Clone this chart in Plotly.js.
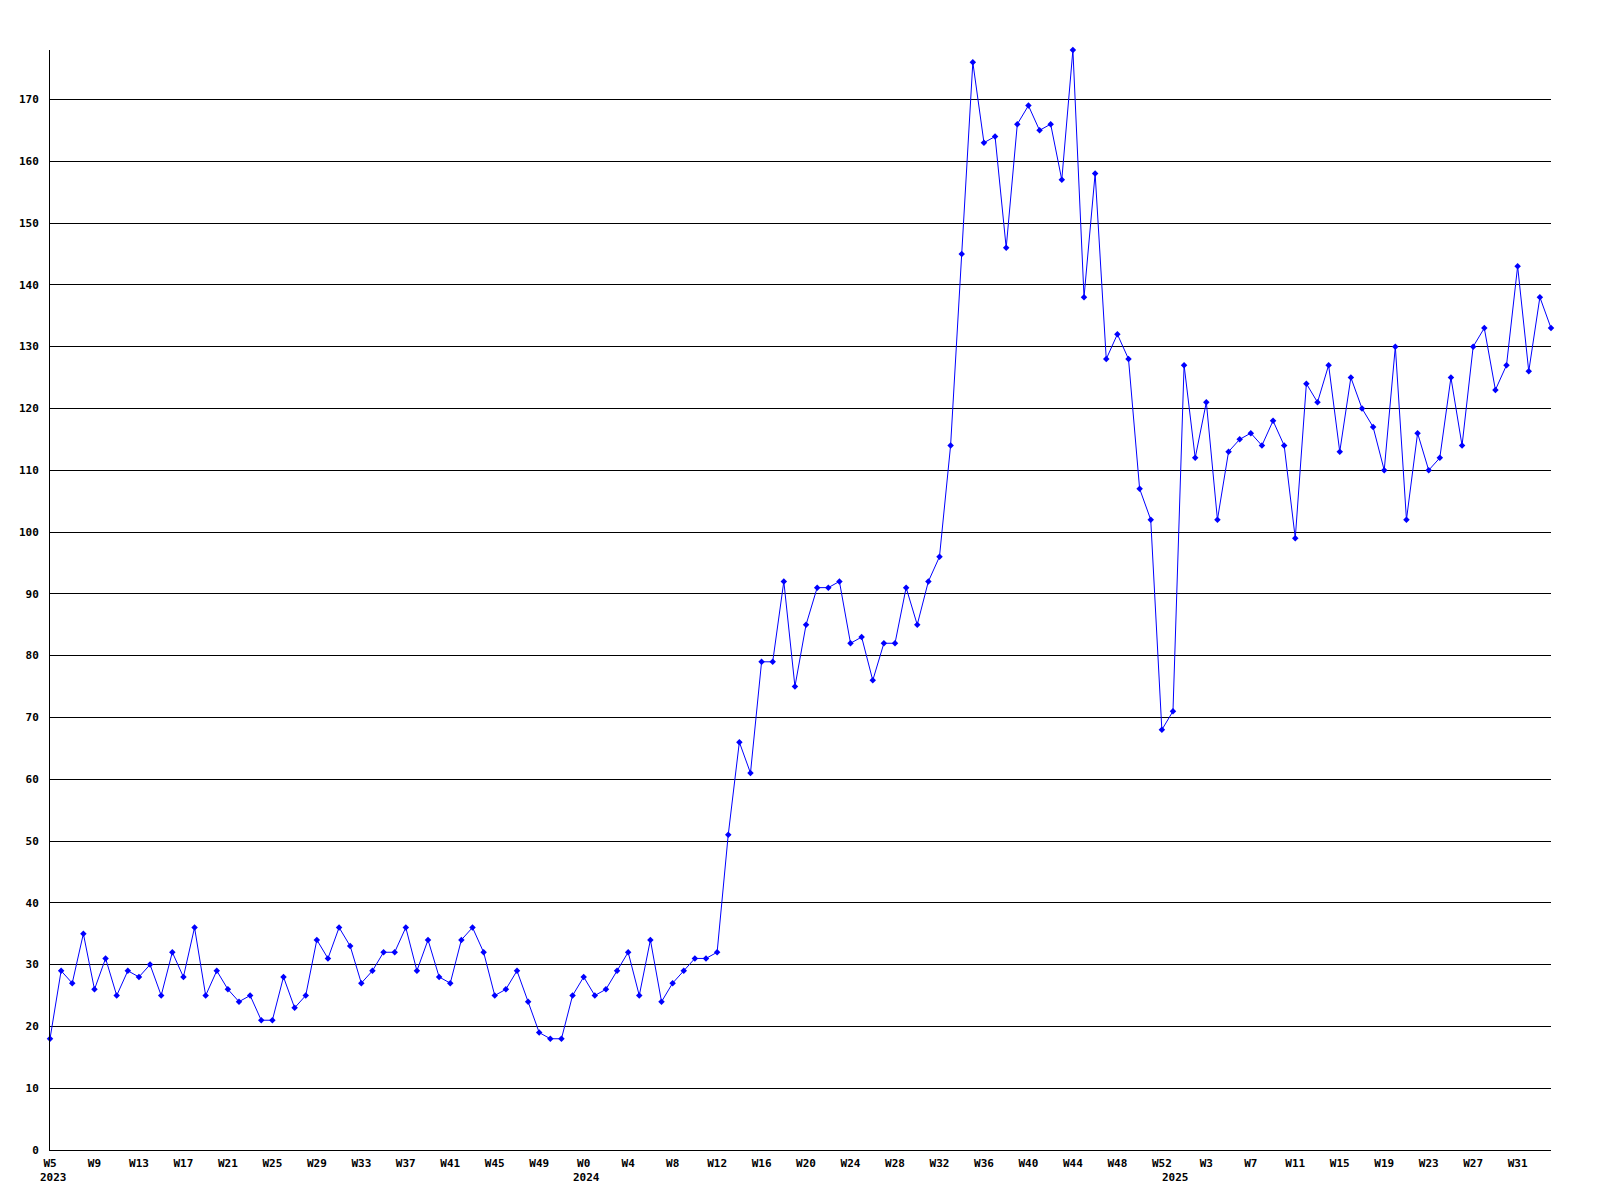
<!DOCTYPE html>
<html>
<head>
<meta charset="utf-8">
<script src="https://cdn.plot.ly/plotly-3.0.1.min.js"></script>
<style>
html, body { margin: 0; padding: 0; background: #ffffff; }
#chart { width: 1600px; height: 1200px; }
</style>
</head>
<body>
<div id="chart"></div>
<script>
// ---- Data ----
const weeks2023 = [5, 6, 7, 8, 9, 10, 11, 12, 13, 14, 15, 16, 17, 18, 19, 20, 21, 22, 23, 24, 25, 26, 27, 28, 29, 30, 31, 32, 33, 34, 35, 36, 37, 38, 39, 40, 41, 42, 43, 44, 45, 46, 47, 48, 49, 50, 51, 52];
const weeks2024 = [0, 1, 2, 3, 4, 5, 6, 7, 8, 9, 10, 11, 12, 13, 14, 15, 16, 17, 18, 19, 20, 21, 22, 23, 24, 25, 26, 27, 28, 29, 30, 31, 32, 33, 34, 35, 36, 37, 38, 39, 40, 41, 42, 43, 44, 45, 46, 47, 48, 49, 50, 51, 52];
const weeks2025 = [0, 1, 2, 3, 4, 5, 6, 7, 8, 9, 10, 11, 12, 13, 14, 15, 16, 17, 18, 19, 20, 21, 22, 23, 24, 25, 26, 27, 28, 29, 30, 31, 32, 33, 34];

const values2023 = [18, 29, 27, 35, 26, 31, 25, 29, 28, 30, 25, 32, 28, 36, 25, 29, 26, 24, 25, 21, 21, 28, 23, 25, 34, 31, 36, 33, 27, 29, 32, 32, 36, 29, 34, 28, 27, 34, 36, 32, 25, 26, 29, 24, 19, 18, 18, 25];
const values2024 = [28, 25, 26, 29, 32, 25, 34, 24, 27, 29, 31, 31, 32, 51, 66, 61, 79, 79, 92, 75, 85, 91, 91, 92, 82, 83, 76, 82, 82, 91, 85, 92, 96, 114, 145, 176, 163, 164, 146, 166, 169, 165, 166, 157, 178, 138, 158, 128, 132, 128, 107, 102, 68];
const values2025 = [71, 127, 112, 121, 102, 113, 115, 116, 114, 118, 114, 99, 124, 121, 127, 113, 125, 120, 117, 110, 130, 102, 116, 110, 112, 125, 114, 130, 133, 123, 127, 143, 126, 138, 133];

const tickCategories = ["2023-W5", "2023-W9", "2023-W13", "2023-W17", "2023-W21", "2023-W25", "2023-W29", "2023-W33", "2023-W37", "2023-W41", "2023-W45", "2023-W49",
  "2024-W0", "2024-W4", "2024-W8", "2024-W12", "2024-W16", "2024-W20", "2024-W24", "2024-W28", "2024-W32", "2024-W36", "2024-W40", "2024-W44", "2024-W48", "2024-W52",
  "2025-W3", "2025-W7", "2025-W11", "2025-W15", "2025-W19", "2025-W23", "2025-W27", "2025-W31"];
const tickLabels = ["W5", "W9", "W13", "W17", "W21", "W25", "W29", "W33", "W37", "W41", "W45", "W49",
  "W0", "W4", "W8", "W12", "W16", "W20", "W24", "W28", "W32", "W36", "W40", "W44", "W48", "W52",
  "W3", "W7", "W11", "W15", "W19", "W23", "W27", "W31"];
const yearLabels = ["2023", "2024", "2025"];
const yearStartCategories = ["2023-W5", "2024-W0", "2025-W0"];

// ---- Build series ----
const categories = []
  .concat(weeks2023.map(w => "2023-W" + w))
  .concat(weeks2024.map(w => "2024-W" + w))
  .concat(weeks2025.map(w => "2025-W" + w));
const values = [].concat(values2023, values2024, values2025);

const font = {
  family: '"DejaVu Sans Mono", "Liberation Mono", monospace',
  size: 11,
  color: '#000000',
  weight: 'bold'
};

const trace = {
  type: 'scatter',
  mode: 'lines+markers',
  x: categories,
  y: values,
  line: { color: '#0000ff', width: 1 },
  marker: { symbol: 'diamond', size: 5, color: '#0000ff', line: { width: 0 } },
  cliponaxis: false,
  hoverinfo: 'skip'
};

const annotations = yearLabels.map((label, k) => ({
  x: categories.indexOf(yearStartCategories[k]),
  xref: 'x',
  y: 0,
  yref: 'paper',
  xanchor: 'center',
  yanchor: 'middle',
  xshift: 3,
  yshift: -27,
  text: label,
  showarrow: false,
  font: font
}));

const layout = {
  width: 1600,
  height: 1200,
  margin: { l: 50, r: 49, t: 50, b: 50, pad: 0 },
  paper_bgcolor: '#ffffff',
  plot_bgcolor: '#ffffff',
  showlegend: false,
  xaxis: {
    type: 'category',
    range: [0, categories.length - 1],
    tickmode: 'array',
    tickvals: tickCategories,
    ticktext: tickLabels,
    showgrid: false,
    zeroline: false,
    showline: true,
    linecolor: '#000000',
    linewidth: 1,
    ticks: '',
    tickfont: font,
    ticklabelstandoff: 3,
    fixedrange: true
  },
  yaxis: {
    range: [0, 178],
    tickmode: 'linear',
    tick0: 0,
    dtick: 10,
    showgrid: true,
    gridcolor: '#000000',
    gridwidth: 1,
    zeroline: false,
    showline: true,
    linecolor: '#000000',
    linewidth: 1,
    ticks: '',
    tickfont: font,
    ticklabelstandoff: 8,
    fixedrange: true
  },
  annotations: annotations
};

Plotly.newPlot('chart', [trace], layout, { displayModeBar: false, staticPlot: true });
</script>
</body>
</html>
